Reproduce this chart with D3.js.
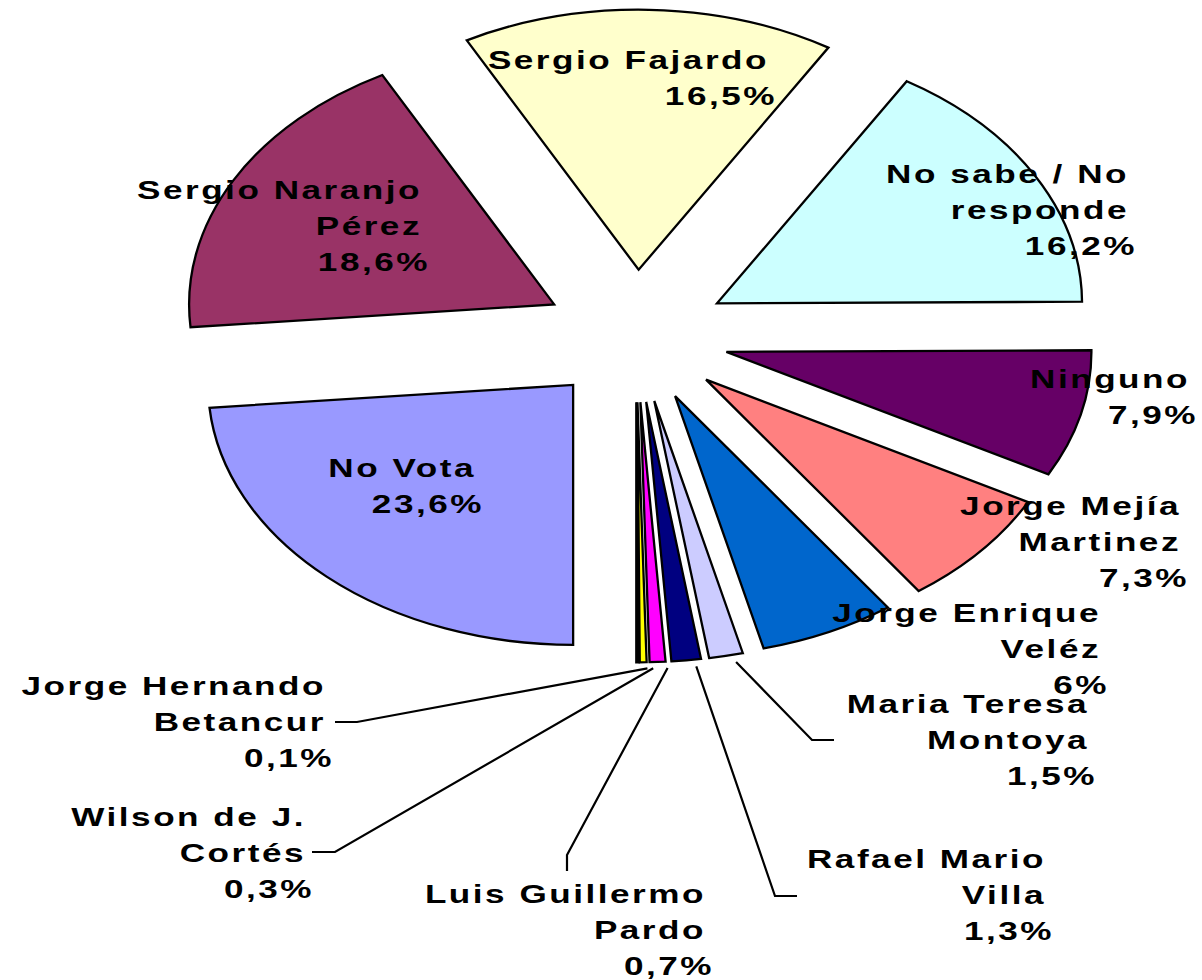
<!DOCTYPE html>
<html>
<head>
<meta charset="utf-8">
<script src="https://cdn.jsdelivr.net/npm/d3@7"></script>
<style>
body { margin: 0; background: #fff; }
text { font-family: "Liberation Sans", Arial, sans-serif; font-weight: bold; fill: #000; }
</style>
</head>
<body>
<div id="chart"></div>
<script>
// datos, en el orden de la hoja (la primera tajada empieza abajo, a las 6)
const categories = [
	['No Vota'], ['Sergio Naranjo', 'Pérez'], ['Sergio Fajardo'], ['No sabe / No', 'responde'],
	['Ninguno'], ['Jorge Mejía', 'Martinez'], ['Jorge Enrique', 'Veléz'], ['Maria Teresa', 'Montoya'],
	['Rafael Mario', 'Villa'], ['Luis Guillermo', 'Pardo'], ['Wilson de J.', 'Cortés'], ['Jorge Hernando', 'Betancur']
];
const values = [23.6, 18.6, 16.5, 16.2, 7.9, 7.3, 6, 1.5, 1.3, 0.7, 0.3, 0.1];
const colors = ['#9999FF', '#993366', '#FFFFCC', '#CCFFFF', '#660066', '#FF8080',
	'#0066CC', '#CCCCFF', '#000080', '#FF00FF', '#FFFF00', '#00FFFF'];

const width = 1202;
const height = 980;
const cx = 636, cy = 336;     // centro del pastel
const ry = 260;               // radio vertical
const stretch = 1.404;        // el gráfico está estirado a lo ancho
const explode = 0.255;        // separación de las tajadas
const lineH = 36;

// etiquetas: [borde derecho, línea base de la primera fila]
const labelPos = [
	[476, 477], [422, 199], [769, 69], [1129, 183], [1190, 388], [1181, 515],
	[1101, 622], [1089, 713], [1046, 868], [706, 903], [306, 826], [326, 695]
];
// líneas guía de las tajadas pequeñas: [punta junto al texto, codo]
const leaders = {
	7: [[834, 740], [812, 740]],
	8: [[797, 896], [775, 896]],
	9: [[567, 871], [567, 855]],
	10: [[312, 852], [335, 852]],
	11: [[335, 722], [357, 722]]
};

function fmtPct(v) {
	return String(v).replace('.', ',') + '%';
}

const svg = d3.select('#chart')
	.append('svg')
	.attr('width', width)
	.attr('height', height);

const pie = d3.pie().sort(null).startAngle(Math.PI).endAngle(3 * Math.PI)(values);

const arc = d3.arc().innerRadius(0).outerRadius(ry);
const offsetArc = d3.arc().innerRadius(ry * explode).outerRadius(ry * explode);
const edgeArc = d3.arc().innerRadius(ry * (1 + explode)).outerRadius(ry * (1 + explode));

const g = svg.append('g')
	.attr('transform', `translate(${cx},${cy}) scale(${stretch},1)`);

g.selectAll('path')
	.data(pie)
	.join('path')
	.attr('transform', d => `translate(${offsetArc.centroid(d)})`)
	.attr('d', arc)
	.attr('fill', (d, i) => colors[i])
	.attr('stroke', '#000')
	.attr('stroke-width', 2.3)
	.attr('stroke-linejoin', 'miter')
	.attr('vector-effect', 'non-scaling-stroke');

// líneas guía
const lineGen = d3.line();
svg.append('g')
	.selectAll('path')
	.data(pie.filter(d => leaders[d.index]))
	.join('path')
	.attr('d', d => {
		const [ex, ey] = edgeArc.centroid(d);
		const tip = [cx + ex * stretch + 10, cy + ey + 6];
		return lineGen([...leaders[d.index], tip]);
	})
	.attr('fill', 'none')
	.attr('stroke', '#000')
	.attr('stroke-width', 2.2);

// etiquetas
const labels = svg.append('g')
	.selectAll('text')
	.data(pie)
	.join('text')
	.attr('transform', (d, i) => `translate(${labelPos[i][0]},${labelPos[i][1]}) scale(${stretch},1)`)
	.attr('text-anchor', 'end')
	.attr('font-size', 25)
	.attr('letter-spacing', 1.8);

labels.selectAll('tspan')
	.data((d, i) => categories[i].map(t => ({ t, pct: false })).concat([{ t: fmtPct(values[i]), pct: true }]))
	.join('tspan')
	.attr('x', d => d.pct ? 8 / stretch : 0)
	.attr('y', (d, j) => j * lineH)
	.text(d => d.t);
</script>
</body>
</html>
